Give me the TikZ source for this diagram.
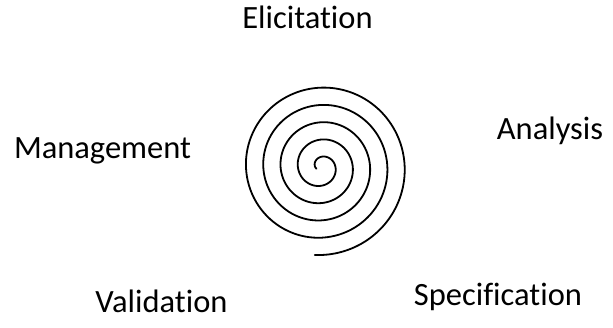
\documentclass[tikz,border=0pt]{standalone}
\usepackage{fontspec}
\setmainfont{Carlito}[Ligatures=NoCommon]
\begin{document}
\begin{tikzpicture}[x=1pt,y=-1pt,
  lbl/.style={anchor=base,inner sep=0pt,font=\fontsize{32.5}{38}\selectfont,text=black},
  spiralline/.style={line width=1.8pt,black,line cap=round}]
\useasboundingbox (0,0) rectangle (613,327);
\node[lbl] (elic) at (307.5,28) {Elicitation};
\node[lbl] (anal) at (550,139) {Analysis};
\node[lbl] (mgmt) at (102.5,158) {Management};
\node[lbl] (vali) at (161.5,312) {Validation};
\node[lbl] (spec) at (498,305) {Specification};
\draw[spiralline] plot[domain=100:1835,samples=500,smooth,variable=\t]
  ({321 + 0.04806*\t*cos(301-\t)}, {167 - 0.04806*\t*sin(301-\t)});
\end{tikzpicture}
\end{document}
